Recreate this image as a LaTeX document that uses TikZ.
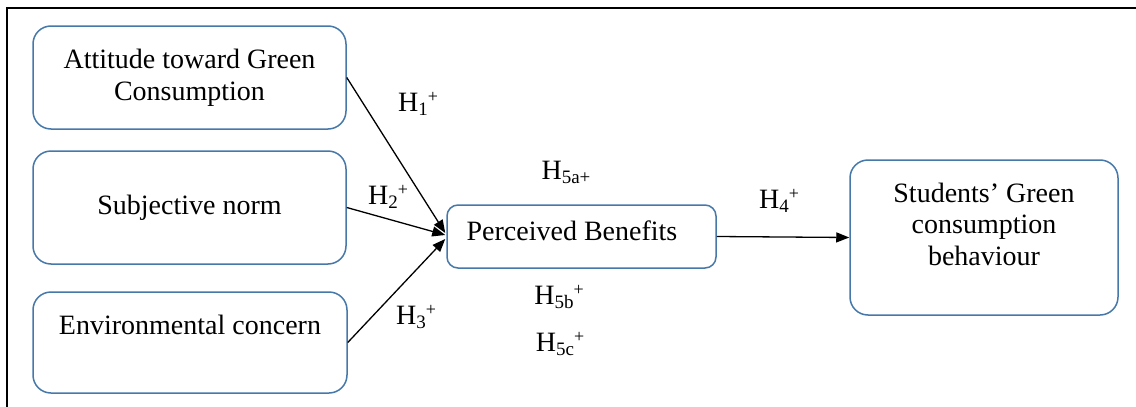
\documentclass[tikz,border=0pt]{standalone}
\usepackage{fontspec}
\setmainfont{LiberationSerif}[Extension=.ttf,UprightFont=*-Regular,BoldFont=*-Bold,ItalicFont=*-Italic]
\usetikzlibrary{arrows.meta}
\definecolor{boxblue}{RGB}{70,120,170}
\newcommand\hplus{\raisebox{9pt}{\fontsize{18}{18}\selectfont +}}
\newcommand\hsub[1]{\raisebox{-4pt}{\fontsize{19}{19}\selectfont #1}}
\tikzset{
  box/.style={draw=boxblue, line width=1.5pt, rounded corners=18pt, fill=white, inner sep=0pt},
  smallbox/.style={draw=boxblue, line width=1.5pt, rounded corners=11pt, fill=white, inner sep=0pt},
  txt/.style={inner sep=0pt, align=center, font=\fontsize{28}{32}\selectfont},
  hyp/.style={inner sep=0pt, font=\fontsize{28}{32}\selectfont},
  conn/.style={line width=1.3pt, -{Triangle[length=13pt,width=10pt]}},
  frame/.style={line width=1.5pt, black}
}
\begin{document}
\begin{tikzpicture}[x=1pt,y=-1pt]
\useasboundingbox (0,0) rectangle (1136,407);
\draw[frame] (7,407) -- (7,8) -- (1136,8);

\node[box, minimum width=313pt, minimum height=103pt, txt] (a) at (189.5,77.5) {Attitude toward Green\\Consumption};
\node[box, minimum width=313pt, minimum height=113pt, txt] (b) at (189.5,207.5) {Subjective norm};
\node[box, minimum width=314pt, minimum height=101pt] (c) at (190,342.5) {};
\node[txt] (ctext) at (190,325) {Environmental concern};
\node[smallbox, minimum width=269pt, minimum height=63pt] (p) at (581.5,236.5) {};
\node[txt] (ptext) at (572,230.5) {Perceived Benefits};
\node[box, minimum width=268pt, minimum height=155pt] (s) at (984,237.5) {};
\node[txt, font=\fontsize{28}{31.5}\selectfont] (stext) at (984,224) {Students’ Green\\consumption\\behaviour};

\draw[conn] (a.east) -- ([yshift=3.5pt,xshift=-1pt]p.west);
\draw[conn] (b.east) -- ([yshift=1.5pt,xshift=-1pt]p.west);
\draw[conn] (c.east) -- ([yshift=-2.5pt,xshift=-1pt]p.west);
\draw[conn] (p.east) -- (s.west);

\node[hyp] (h1) at (418,104) {H\hsub{1}\hplus};
\node[hyp] (h2) at (388,197) {H\hsub{2}\hplus};
\node[hyp] (h3) at (416,317) {H\hsub{3}\hplus};
\node[hyp] (h4) at (779,201) {H\hsub{4}\hplus};
\node[hyp] (h5a) at (566,172) {H\hsub{5a+}};
\node[hyp] (h5b) at (559,297) {H\hsub{5b}\hplus};
\node[hyp] (h5c) at (560,344) {H\hsub{5c}\hplus};
\end{tikzpicture}
\end{document}
